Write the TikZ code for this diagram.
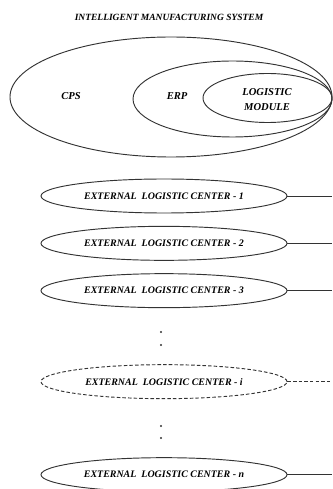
\documentclass[tikz,border=0pt]{standalone}
\usepackage{fontspec}
\setmainfont{Liberation Serif}
\usetikzlibrary{shapes.geometric, calc, positioning}

\begin{document}
\begin{tikzpicture}[x=0.03cm,y=-0.03cm,align=center,node distance=1.42cm,font=\bfseries\itshape]
\tikzstyle{zone}=[ellipse,draw=black!80,line width=0.8pt,inner sep=0pt]
\tikzstyle{zonetext}=[font=\fontsize{9}{12.8}\selectfont\bfseries\itshape]
\tikzstyle{extcenter}=[ellipse,draw=black!80,line width=0.8pt,minimum width=7.38cm,minimum height=1.02cm,inner sep=0pt,font=\fontsize{8.5}{10}\selectfont\bfseries\itshape]
\tikzstyle{link}=[-,draw=black!80,line width=0.8pt]
\tikzstyle{dot}=[circle,fill=black!80,inner sep=0pt,minimum size=2pt]

\useasboundingbox (0,0) rectangle (332,489);

\node (title) at (169,17) {\fontsize{8.1}{10}\selectfont INTELLIGENT MANUFACTURING SYSTEM};

% nested system
\node[zone,minimum width=9.66cm,minimum height=3.6cm] (cps) at (171,97) {};
\node[zone,minimum width=5.97cm,minimum height=2.28cm] (erp) at (232.5,99) {};
\node[zone,minimum width=3.87cm,minimum height=1.47cm] (logmod) at (267.5,98) {};

\node[zonetext] (cpstext) at (71,96) {CPS};
\node[zonetext] (erptext) at (177,96) {ERP};
\node[zonetext] (logtext) at (267,99.5) {LOGISTIC\\MODULE};

\coordinate (rim) at (332,0);

% external centers
\node[extcenter] (ext1) at (164,196) {EXTERNAL\ \ LOGISTIC CENTER - 1};
\node[extcenter] (ext2) [below of = ext1] {EXTERNAL\ \ LOGISTIC CENTER - 2};
\node[extcenter] (ext3) [below of = ext2] {EXTERNAL\ \ LOGISTIC CENTER - 3};
\node[extcenter,dash pattern=on 3pt off 1.8pt] (exti) [below of = ext3, node distance=2.73cm] {EXTERNAL\ \ LOGISTIC CENTER - \textit{i}};
\node[extcenter] (extn) [below of = exti, node distance=2.79cm] {EXTERNAL\ \ LOGISTIC CENTER - \textit{n}};

\node[dot] (dots1a) at (161,332) {};
\node[dot] (dots1b) at (161,345) {};
\node[dot] (dots2a) at (161,426) {};
\node[dot] (dots2b) at (161,438) {};

\draw[link] (ext1.east) -- (ext1.east -| rim);
\draw[link] (ext2.east) -- (ext2.east -| rim);
\draw[link] (ext3.east) -- (ext3.east -| rim);
\draw[link,dash pattern=on 3pt off 1.8pt] (exti.east) -- (exti.east -| rim);
\draw[link] (extn.east) -- (extn.east -| rim);
\end{tikzpicture}
\end{document}
